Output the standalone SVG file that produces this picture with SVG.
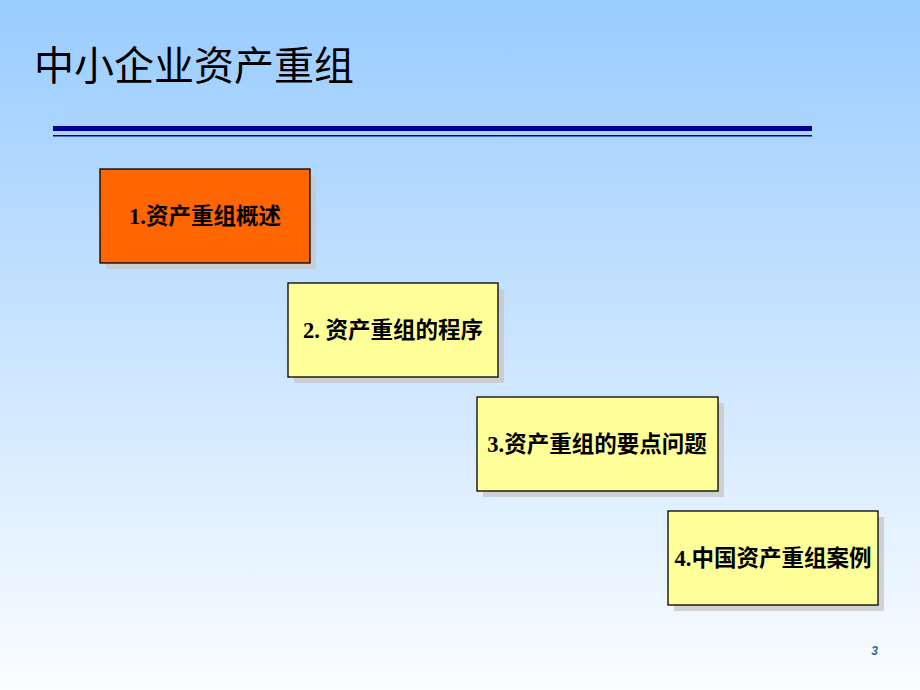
<svg xmlns="http://www.w3.org/2000/svg" width="920" height="690" viewBox="0 0 920 690">
<defs>
<linearGradient id="bg" x1="0" y1="0" x2="0" y2="1">
<stop offset="0" stop-color="#99ccff"/>
<stop offset="1" stop-color="#fbfdff"/>
</linearGradient>
<style>
.sh{fill:#c8c8c8;opacity:0.8}
.bx{stroke:#000;stroke-width:1.3}
.t{font-family:"Liberation Serif","Noto Sans CJK SC",serif;font-size:22.5px;font-weight:bold;fill:#000;text-anchor:middle}
</style>
</defs>
<rect width="920" height="690" fill="url(#bg)"/>
<text x="34" y="80" font-family="'Noto Sans CJK SC',sans-serif" font-size="40" fill="#000">中小企业资产重组</text>
<rect x="53" y="126" width="759" height="5" fill="#000099"/>
<rect x="53" y="135" width="759" height="1.5" fill="#000099"/>
<g id="n1"><rect class="sh" x="106" y="175" width="210" height="94"/><rect class="bx" x="100" y="169" width="210" height="94" fill="#ff6600"/><text class="t" x="205" y="224">1.资产重组概述</text></g>
<g id="n2"><rect class="sh" x="294" y="289" width="210" height="94"/><rect class="bx" x="288" y="283" width="210" height="94" fill="#ffff99"/><text class="t" x="393" y="338">2. 资产重组的程序</text></g>
<g id="n3"><rect class="sh" x="483" y="403" width="241" height="94"/><rect class="bx" x="477" y="397" width="241" height="94" fill="#ffff99"/><text class="t" x="597" y="452">3.资产重组的要点问题</text></g>
<g id="n4"><rect class="sh" x="674" y="517" width="210" height="94"/><rect class="bx" x="668" y="511" width="210" height="94" fill="#ffff99"/><text class="t" x="773" y="566">4.中国资产重组案例</text></g>
<g id="connectors"/>
<text x="878" y="655" font-family="'Liberation Sans',sans-serif" font-size="12" font-weight="bold" font-style="italic" fill="#336699" text-anchor="end">3</text>
</svg>
